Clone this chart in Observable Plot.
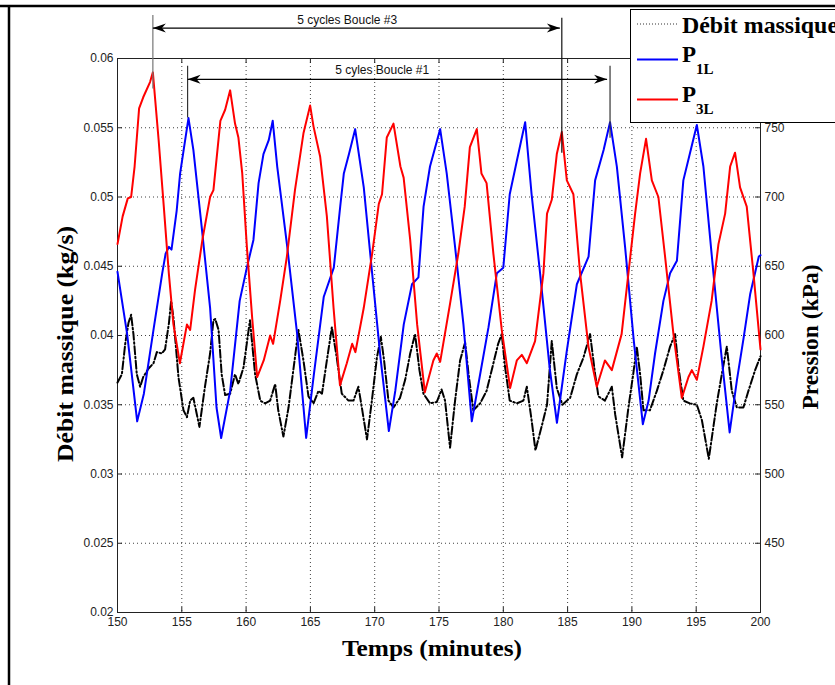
<!DOCTYPE html>
<html><head><meta charset="utf-8">
<script src="https://cdn.jsdelivr.net/npm/d3@7"></script>
<script src="https://cdn.jsdelivr.net/npm/@observablehq/plot@0.6"></script>
<style>body{margin:0;background:#fff}#chart{width:835px;height:685px}</style>
</head><body><div id="chart"></div>
<script>
// ---- data ----
const flowT = [150.0,150.34,150.6,150.85,151.06,151.24,151.5,151.76,152.0,152.4,152.8,153.06,153.45,153.7,154.0,154.17,154.35,154.74,155.13,155.4,155.65,155.9,156.17,156.37,156.8,157.2,157.46,157.6,157.86,158.1,158.37,158.76,159.14,159.4,159.8,160.3,160.7,161.1,161.48,161.87,162.26,162.5,162.9,163.3,163.7,164.07,164.46,164.85,165.24,165.63,165.9,166.28,166.67,167.05,167.44,167.96,168.35,168.73,169.0,169.4,169.78,170.17,170.48,170.73,171.07,171.46,171.97,172.37,172.76,173.14,173.48,173.79,174.3,174.83,175.2,175.47,175.86,176.25,176.64,177.03,177.3,177.67,178.2,178.7,179.23,179.6,179.88,180.14,180.5,181.05,181.56,181.83,182.2,182.5,183.0,183.4,183.6,183.77,184.16,184.6,185.2,185.72,186.23,186.75,187.14,187.4,187.9,188.44,188.7,189.24,189.73,190.1,190.38,190.64,190.9,191.4,191.94,192.45,192.97,193.36,193.62,194.0,194.5,195.05,195.44,195.98,196.6,196.99,197.38,197.77,198.16,198.67,199.06,199.58,200.0];
const flowV = [0.0366,0.0372,0.0394,0.0409,0.0415,0.0401,0.0372,0.0363,0.0370,0.0376,0.0380,0.0388,0.0387,0.0390,0.0409,0.0425,0.0413,0.0370,0.0346,0.0341,0.0353,0.0355,0.0343,0.0334,0.0363,0.0387,0.0411,0.0412,0.0404,0.0372,0.0357,0.0358,0.0372,0.0365,0.0377,0.0411,0.0372,0.0353,0.0351,0.0353,0.0365,0.0346,0.0327,0.0348,0.0377,0.0404,0.0382,0.0356,0.0351,0.0360,0.0358,0.0382,0.0406,0.0384,0.0358,0.0353,0.0353,0.0363,0.0348,0.0325,0.0353,0.0384,0.0399,0.0382,0.0353,0.0348,0.0355,0.0368,0.0387,0.0401,0.0375,0.0358,0.0351,0.0352,0.0361,0.0353,0.0319,0.0353,0.0382,0.0395,0.0372,0.0346,0.0351,0.0360,0.0380,0.0394,0.0401,0.0377,0.0353,0.0351,0.0353,0.0363,0.0339,0.0317,0.0335,0.0350,0.0375,0.0396,0.0362,0.0350,0.0355,0.0372,0.0384,0.0401,0.0372,0.0356,0.0353,0.0363,0.0343,0.0312,0.0348,0.0372,0.0392,0.0372,0.0346,0.0346,0.0360,0.0375,0.0392,0.0401,0.0377,0.0353,0.0351,0.0350,0.0339,0.0311,0.0351,0.0372,0.0392,0.0360,0.0348,0.0348,0.0360,0.0375,0.0385];

const p1T = [150.0,150.75,151.53,152.05,152.83,153.48,153.74,154.0,154.2,154.6,154.87,155.26,155.52,155.9,156.55,157.2,157.7,158.06,158.76,159.5,160.06,160.57,160.97,161.35,161.76,162.07,162.42,163.2,163.97,164.67,165.27,166.04,166.82,167.34,167.6,168.0,168.48,169.15,169.8,170.45,171.1,171.6,172.26,172.9,173.4,173.8,174.3,175.09,175.6,176.25,176.9,177.55,178.2,178.85,179.5,180.0,180.5,181.05,181.7,182.2,182.86,183.6,184.17,184.94,185.72,186.63,187.14,187.8,188.3,188.83,189.47,190.15,190.85,191.3,191.8,192.45,192.97,193.5,194.0,194.5,195.05,195.56,196.34,196.98,197.6,198.17,198.7,199.2,199.87,200.0];
const p1P = [646,601,538,558,606,645,659,664,662,690,717,741,757,734,678,620,548,526,560,625,649,669,710,731,741,755,722,664,601,526,572,628,649,695,717,731,749,707,645,584,531,560,608,637,642,693,722,749,717,664,608,538,572,606,645,649,702,726,754,702,645,577,537,589,637,657,712,734,754,722,664,596,536,553,587,625,645,654,712,731,752,722,645,584,530,568,599,630,657,658];

const p3T = [150.0,150.4,150.8,151.06,151.33,151.68,152.0,152.53,152.75,153.2,153.6,153.99,154.35,154.85,155.4,155.65,156.03,156.6,157.2,157.46,158.0,158.37,158.76,159.14,159.4,159.7,160.06,160.47,160.86,161.37,161.87,162.1,162.65,163.17,163.8,164.46,164.98,165.24,165.76,166.28,166.8,167.3,167.83,168.25,168.5,169.15,169.8,170.32,170.57,170.94,171.46,172.0,172.25,172.76,173.3,173.9,174.56,174.83,175.09,175.86,176.5,177.0,177.4,177.94,178.3,178.7,179.23,179.88,180.53,181.05,181.44,181.83,182.47,183.12,183.4,183.77,184.16,184.55,184.94,185.45,185.97,186.62,187.27,187.9,188.44,189.2,189.73,190.25,190.64,191.1,191.55,192.06,192.58,193.23,193.88,194.4,194.66,195.05,195.56,196.2,196.73,197.25,197.64,198.02,198.41,198.93,199.45,200.0];
const p3P = [666,686,699,700,722,764,772,783,790,741,693,645,608,580,608,604,633,669,700,705,755,763,777,753,743,717,664,613,570,582,600,594,625,657,705,746,766,751,729,686,620,564,580,594,588,620,659,695,702,743,753,722,714,669,608,559,582,587,581,623,659,693,736,749,717,710,659,604,562,582,586,580,596,645,688,698,731,747,712,702,645,592,563,582,575,601,645,688,717,742,712,700,657,601,555,570,575,568,592,625,666,688,722,732,707,693,645,590];

const xTicks = [150,155,160,165,170,175,180,185,190,195,200];
const yTicks = [0.02,0.025,0.03,0.035,0.04,0.045,0.05,0.055,0.06];
const yTickLabels = ["0.02","0.025","0.03","0.035","0.04","0.045","0.05","0.055","0.06"];
const pTicks = [450,500,550,600,650,700,750];

// annotations (time in minutes, pressure in kPa)
const annotText = ["5 cycles Boucle #3","5 cyles Boucle #1"];
const annotTextT = [167.86,170.58];
const annotTextP = [827.5,791.5];
const arrowT1 = [152.75,155.45];
const arrowT2 = [184.4,188.07];
const arrowP = [822,785];
const vlineT = [152.75,184.55,155.45,188.3];
const vlineP1 = [831,829,794.4,794.4];
const vlineP2 = [778,731.6,757,742.4];
const vlineColor = ["#777","#111","#333","#333"];

// legend entries
const legendLabels = ["Débit massique","P","P"];
const legendSubs = ["","1L","3L"];
const legendColors = ["#333","#0000ff","#ff0000"];

// ---- helpers ----
const toFlow = p => 0.02 + (p - 400) / 10000;   // right axis: 400 kPa <-> 0.02 kg/s, 50 kPa <-> 0.005
const toPress = f => 400 + (f - 0.02) * 10000;

const flow = flowT.map((t,i)=>({t, v: flowV[i]}));
const p1 = p1T.map((t,i)=>({t, v: toFlow(p1P[i])}));
const p3 = p3T.map((t,i)=>({t, v: toFlow(p3P[i])}));
const texts = annotText.map((s,i)=>({s, t: annotTextT[i], v: toFlow(annotTextP[i])}));
const arrows = arrowT1.map((t1,i)=>({t1, t2: arrowT2[i], v: toFlow(arrowP[i])}));
const heads = arrows.flatMap(a=>[{t:a.t1, v:a.v, r:-90},{t:a.t2, v:a.v, r:90}]);
const vlines = vlineT.map((t,i)=>({t, v1: toFlow(vlineP1[i]), v2: toFlow(vlineP2[i]), c: vlineColor[i]}));

const W = 835, H = 685, mL = 117, mR = 75, mT = 58, mB = 73;
const yPerPx = 0.04 / (H - mT - mB);
const xPerPx = 50 / (W - mL - mR);
const tickLen = 5;

const stealth = {
  draw(ctx, l) {
    ctx.moveTo(0, -l);
    ctx.lineTo(-4.5, 0);
    ctx.lineTo(0, -l * 0.3);
    ctx.lineTo(4.5, 0);
    ctx.closePath();
  }
};

const innerX = xTicks.slice(1,-1);
const innerY = yTicks.slice(1,-1);

const plot = Plot.plot({
  width: W, height: H,
  marginLeft: mL, marginRight: mR, marginTop: mT, marginBottom: mB,
  style: {fontFamily: "'Liberation Sans', Arial, sans-serif", fontSize: "12px", background: "#fff", overflow: "visible"},
  x: {domain: [150, 200], axis: null},
  y: {domain: [0.02, 0.06], axis: null},
  marks: [
    Plot.gridX(innerX, {stroke: "#000", strokeOpacity: 0.75, strokeDasharray: "1,3"}),
    Plot.gridY(innerY, {stroke: "#000", strokeOpacity: 0.75, strokeDasharray: "1,3"}),
    // inward ticks (MATLAB style)
    Plot.ruleX(xTicks, {x: d=>d, y1: 0.02, y2: 0.02 + tickLen*yPerPx, stroke: "#222"}),
    Plot.ruleX(xTicks, {x: d=>d, y1: 0.06, y2: 0.06 - tickLen*yPerPx, stroke: "#222"}),
    Plot.ruleY(yTicks, {y: d=>d, x1: 150, x2: 150 + tickLen*xPerPx, stroke: "#222"}),
    Plot.ruleY(pTicks.map(toFlow), {y: d=>d, x1: 200, x2: 200 - tickLen*xPerPx, stroke: "#222"}),
    Plot.axisX(xTicks, {anchor: "bottom", tickSize: 0, tickPadding: 5, label: null, fill: "#222", fontSize: 12}),
    Plot.axisY(yTicks, {anchor: "left", tickSize: 0, tickPadding: 4, label: null, fill: "#222", fontSize: 12,
      tickFormat: d => yTickLabels[yTicks.indexOf(d)]}),
    Plot.axisY(pTicks.map(toFlow), {anchor: "right", tickSize: 0, tickPadding: 4, label: null, fill: "#222", fontSize: 12,
      tickFormat: d => String(Math.round(toPress(d)))}),
    Plot.frame({stroke: "#222", strokeWidth: 1}),
    Plot.line(flow, {x: "t", y: "v", stroke: "#000", strokeWidth: 2, strokeDasharray: "8,2.5,1.5,2.5"}),
    Plot.line(p1, {x: "t", y: "v", stroke: "#0000ff", strokeWidth: 2}),
    Plot.line(p3, {x: "t", y: "v", stroke: "#ff0000", strokeWidth: 2}),
    // annotations
    Plot.ruleX(vlines, {x: "t", y1: "v1", y2: "v2", stroke: "c", strokeWidth: 1.2}),
    Plot.link(arrows, {x1: "t1", x2: "t2", y1: "v", y2: "v", stroke: "#000", strokeWidth: 1.2}),
    Plot.vector(heads, {x: "t", y: "v", rotate: "r", length: 13, anchor: "end", shape: stealth, fill: "#000", stroke: "none"}),
    Plot.text(texts, {x: "t", y: "v", text: "s", fill: "#111", fontSize: 12})
  ]
});

const svg = d3.select(plot);
const serif = "'Liberation Serif', 'Times New Roman', serif";

function title(x, y, rot, len, str) {
  svg.append("text").attr("transform", `translate(${x},${y})` + (rot ? ` rotate(${rot})` : ""))
    .attr("text-anchor","middle").attr("font-family",serif).attr("font-weight","bold").attr("font-size",23)
    .attr("fill","#000").attr("textLength",len).attr("lengthAdjust","spacingAndGlyphs").text(str);
}
// axis titles
title(73, 344, -90, 236, "Débit massique (kg/s)");
title(818, 337, -90, 145, "Pression (kPa)");
title(432, 656, 0, 180, "Temps (minutes)");

// legend
const lg = svg.append("g").attr("text-anchor","start");
lg.append("rect").attr("x",630.5).attr("y",9.5).attr("width",230).attr("height",113).attr("fill","#fff").attr("stroke","#000");
const rowLineY = [24, 59.5, 99.5];
const rowBase = [33, 62, 102];
legendLabels.forEach((label, i) => {
  lg.append("line").attr("x1",637).attr("x2",678).attr("y1",rowLineY[i]).attr("y2",rowLineY[i])
    .attr("stroke",legendColors[i]).attr("stroke-width", i === 0 ? 1 : 2)
    .attr("stroke-dasharray", i === 0 ? "1,2" : null);
  const t = lg.append("text").attr("x",682).attr("y",rowBase[i]).attr("text-anchor","start").attr("font-family",serif)
    .attr("font-weight","bold").attr("font-size",23).attr("fill","#000");
  if (i === 0) t.attr("textLength",156).attr("lengthAdjust","spacingAndGlyphs");
  t.text(label);
  if (legendSubs[i]) t.append("tspan").attr("dy",12).attr("font-size",15).text(legendSubs[i]);
});

// figure border
svg.append("line").attr("x1",0).attr("x2",W).attr("y1",6).attr("y2",6).attr("stroke","#000").attr("stroke-width",2.5);
svg.append("line").attr("x1",9).attr("x2",9).attr("y1",5).attr("y2",H).attr("stroke","#000").attr("stroke-width",2.5);

document.getElementById("chart").appendChild(plot);
</script>
</body></html>
